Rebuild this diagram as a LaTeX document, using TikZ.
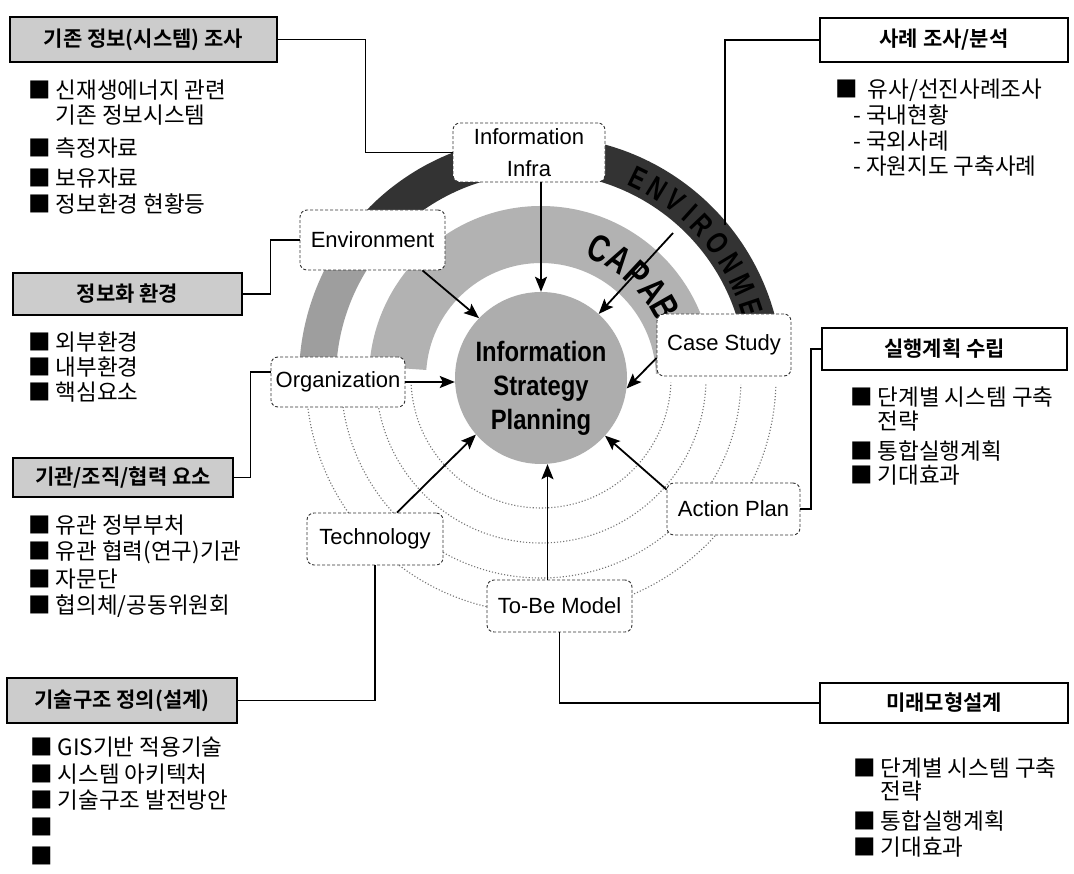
\documentclass[tikz,border=0pt]{standalone}
\usepackage{fontspec}
\newfontfamily\kr{Noto Sans CJK KR}[BoldFont={Noto Sans CJK KR Bold}]
\newfontfamily\lat{Liberation Sans}
\usetikzlibrary{arrows.meta}
\tikzset{
  hdrL/.style={draw=black, line width=1.5pt, fill=black!20, inner sep=0pt, font=\kr\bfseries\fontsize{21}{21}\selectfont},
  hdrR/.style={draw=black, line width=2pt, fill=white, inner sep=0pt, font=\kr\bfseries\fontsize{21}{21}\selectfont},
  lbl/.style={draw=black!80, dash pattern=on 3pt off 2pt, line width=0.9pt, rounded corners=7pt, fill=white, inner sep=0pt, font=\lat\fontsize{22}{32}\selectfont, align=center},
  itm/.style={anchor=west, inner sep=0pt, font=\kr\fontsize{22.5}{24}\selectfont},
  conn/.style={draw=black, line width=1.4pt},
  arr/.style={draw=black, line width=1.8pt, -{Stealth[length=15pt,width=12pt,inset=3pt]}},
  dotarc/.style={draw=black!55, dotted, line width=1.1pt},
  capl/.style={font=\lat\bfseries\fontsize{38}{38}\selectfont, inner sep=0pt},
  envl/.style={font=\lat\bfseries\fontsize{31}{31}\selectfont, inner sep=0pt, text=black},
}
\begin{document}
\begin{tikzpicture}[x=1pt,y=-1pt]
\useasboundingbox (0,0) rectangle (1074,874);
\fill[white] (0,0) rectangle (1074,874);

% rings
\begin{scope}[shift={(541,378)}, yscale=-1]
  \fill[black!80] (2:205) arc[start angle=2, end angle=140, radius=205] -- (140:242) arc[start angle=140, end angle=2, radius=242] -- cycle;
  \fill[black!38] (140:205) arc[start angle=140, end angle=182, radius=205] -- (182:242) arc[start angle=182, end angle=140, radius=242] -- cycle;
  \fill[black!30] (2:115) arc[start angle=2, end angle=176, radius=115] -- (176:172) arc[start angle=176, end angle=2, radius=172] -- cycle;
  \foreach \r in {130,165,200,235}
    \draw[dotarc] (183:\r) arc[start angle=183, end angle=358, radius=\r];
  \foreach \ch/\a [count=\i] in {C/66, A/56.5, P/47, A/38, B/29.5, I/22.5}
    \node[capl, rotate=\a-90] (cap\i) at (\a:142) {\scalebox{0.75}[1]{\ch}};
  \foreach \ch/\a [count=\i] in {E/64, N/58.4, V/52.8, I/48, R/43.5, O/37.5, N/31.2, M/24.8, E/18.5}
    \node[envl, rotate=\a-90] (env\i) at (\a:222) {\scalebox{0.75}[1]{\ch}};
\end{scope}

% center
\node[circle, fill=black!32, minimum size=172pt, inner sep=0pt] (isp) at (541,378) {};
\node[font=\lat\bfseries\fontsize{28}{34}\selectfont, align=center, inner sep=0pt] (ispl) at (541,388)
  {\scalebox{0.85}[1]{Information}\\\scalebox{0.85}[1]{Strategy}\\\scalebox{0.85}[1]{Planning}};

% label boxes
\node[lbl, minimum width=152pt, minimum height=59pt] (ii) at (529,152.5) {Information\\Infra};
\node[lbl, minimum width=145pt, minimum height=60pt] (env) at (372.5,240) {Environment};
\node[lbl, minimum width=134pt, minimum height=62pt] (cs) at (724,345) {Case Study};
\node[lbl, minimum width=134pt, minimum height=50pt] (org) at (338,382) {Organization};
\node[lbl, minimum width=136pt, minimum height=52pt] (tech) at (375,539) {Technology};
\node[lbl, minimum width=145pt, minimum height=52pt] (tbm) at (559.5,606) {To-Be Model};
\node[lbl, minimum width=133pt, minimum height=52pt] (ap) at (733.5,509) {Action Plan};

% headers
\node[hdrL, minimum width=267pt, minimum height=45pt] (h1) at (143.5,39.5) {기존 정보(시스템) 조사};
\node[hdrR, minimum width=248pt, minimum height=44pt] (h2) at (944,40) {사례 조사/분석};
\node[hdrL, minimum width=229pt, minimum height=42pt] (h3) at (127.5,294) {정보화 환경};
\node[hdrR, minimum width=245pt, minimum height=42pt] (h4) at (944.5,349) {실행계획 수립};
\node[hdrL, minimum width=220pt, minimum height=39pt] (h5) at (123,477.5) {기관/조직/협력 요소};
\node[hdrL, minimum width=230pt, minimum height=45pt] (h6) at (122,700.5) {기술구조 정의(설계)};
\node[hdrR, minimum width=248pt, minimum height=40pt] (h7) at (944,703) {미래모형설계};

% items left
\node[itm] (a1) at (28,90) {■ 신재생에너지 관련};
\node[itm] (a2) at (28,115) {\phantom{■ }기존 정보시스템};
\node[itm] (a3) at (28,148) {■ 측정자료};
\node[itm] (a4) at (28,178) {■ 보유자료};
\node[itm] (a5) at (28,204) {■ 정보환경 현황등};

\node[itm] (b1) at (28,342) {■ 외부환경};
\node[itm] (b2) at (28,367) {■ 내부환경};
\node[itm] (b3) at (28,392) {■ 핵심요소};

\node[itm] (c1) at (28,525) {■ 유관 정부부처};
\node[itm] (c2) at (28,552) {■ 유관 협력(연구)기관};
\node[itm] (c3) at (28,579) {■ 자문단};
\node[itm] (c4) at (28,606) {■ 협의체/공동위원회};

\node[itm] (d1) at (30,747) {■ GIS기반 적용기술};
\node[itm] (d2) at (30,774) {■ 시스템 아키텍처};
\node[itm] (d3) at (30,800) {■ 기술구조 발전방안};
\node[itm] (d4) at (30,827) {■};
\node[itm] (d5) at (30,856) {■};

% items right
\node[itm] (e1) at (835,90) {■\ \ 유사/선진사례조사};
\node[itm] (e2) at (853,115) {- 국내현황};
\node[itm] (e3) at (853,141) {- 국외사례};
\node[itm] (e4) at (853,166) {- 자원지도 구축사례};

\node[itm] (f1) at (850,397) {■ 단계별 시스템 구축};
\node[itm] (f2) at (850,421) {\phantom{■ }전략};
\node[itm] (f3) at (850,451) {■ 통합실행계획};
\node[itm] (f4) at (850,475) {■ 기대효과};

\node[itm] (g1) at (853,768) {■ 단계별 시스템 구축};
\node[itm] (g2) at (853,791) {\phantom{■ }전략};
\node[itm] (g3) at (853,821) {■ 통합실행계획};
\node[itm] (g4) at (853,847) {■ 기대효과};

% connectors
\coordinate (ringR) at (725,225);
\coordinate (capS) at (673,233);
\coordinate (tbmA) at ([xshift=-12pt]tbm.north);
\draw[conn] (h1.east) -- ++(88,0) |- (ii.west);
\draw[conn] (h2.west) -| (ringR);
\draw[conn] (h3.east) -- ++(28,0) |- (env.west);
\draw[conn] (h5.east) -- ++(17,0) |- ([yshift=10pt]org.west);
\draw[conn] (h6.east) -| (tech.south);
\draw[conn] (h4.west) -- ++(-10,0) |- (ap.east);
\draw[conn] (h7.west) -| (tbm.south);

% arrows
\draw[arr] (ii.south -| isp.north) -- (isp.north);
\draw[arr] ([xshift=50pt]env.south) -- (isp.136);
\draw[arr] (capS) -- (isp.48);
\draw[arr] ([yshift=-13pt]cs.west) -- (isp.-7);
\draw[arr] (org.east) -- (org.east -| isp.west);
\draw[arr] ([xshift=22pt]tech.north) -- (isp.221);
\draw[arr] (tbmA) -- (tbmA |- isp.south);
\draw[arr] ([yshift=-7pt]ap.north west) -- (isp.-42);
\end{tikzpicture}
\end{document}
